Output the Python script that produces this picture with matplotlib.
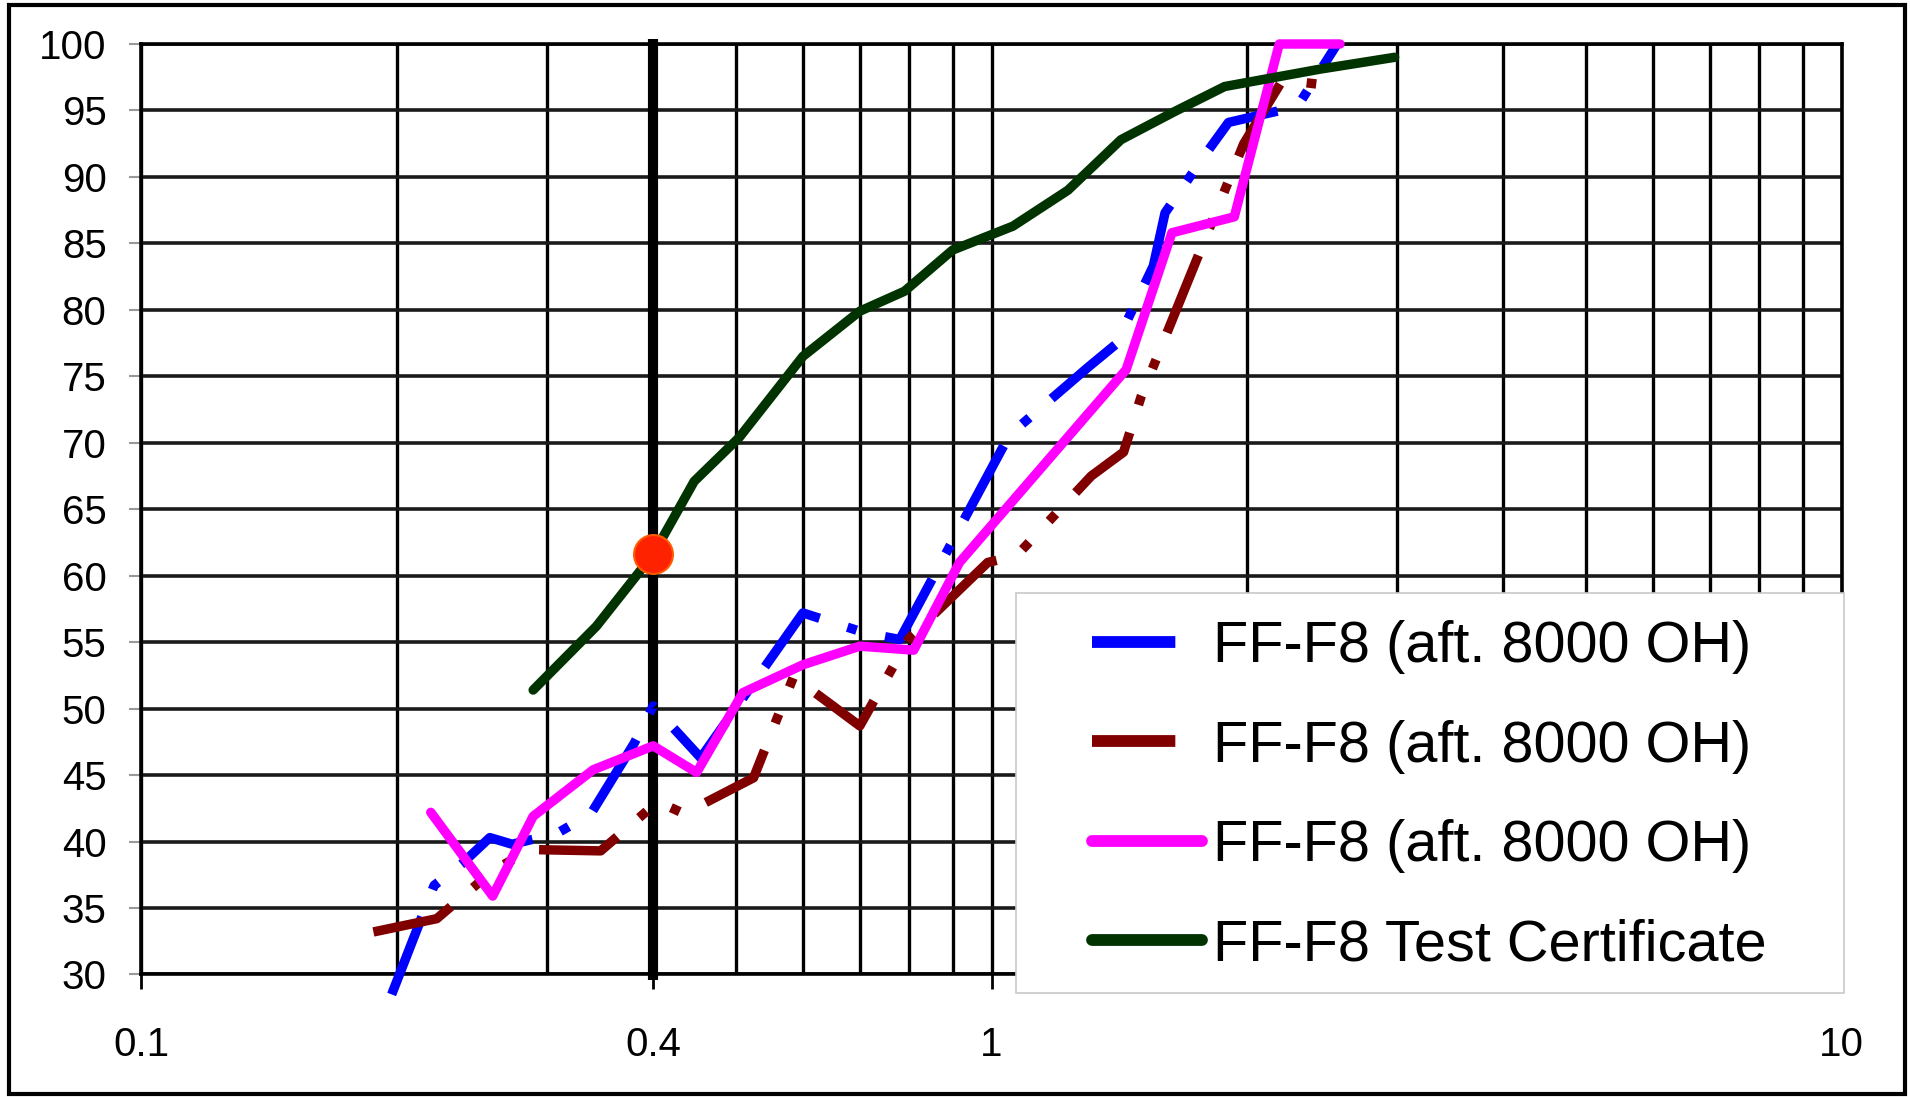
import matplotlib
matplotlib.use('Agg')
import matplotlib.pyplot as plt
from matplotlib.patches import Rectangle
from matplotlib.ticker import NullFormatter

plt.rcParams['font.family'] = ['Liberation Sans', 'DejaVu Sans']
plt.rcParams['lines.scale_dashes'] = False

# series (x is log scale)
blue_x = [0.197, 0.221, 0.238, 0.257, 0.273, 0.308, 0.338, 0.38, 0.40, 0.455, 0.60,
          0.71, 0.78, 1.05, 1.30, 1.40, 1.55, 1.60, 1.78, 1.90, 2.29, 2.55]
blue_y = [28.5, 36.7, 38.3, 40.3, 39.8, 40.6, 42.1, 47.4, 50.2, 46.3, 57.2,
          55.7, 55.2, 70.6, 75.7, 77.4, 83.3, 87.3, 91.6, 94.1, 95.3, 100.0]

red_x = [0.1875, 0.2226, 0.259, 0.287, 0.347, 0.405, 0.435, 0.525, 0.585, 0.70,
         0.80, 0.99, 1.07, 1.31, 1.43, 1.50, 1.98, 2.20, 2.55]
red_y = [33.2, 34.2, 37.8, 39.4, 39.3, 43.0, 42.1, 44.8, 52.4, 48.7,
         55.3, 61.0, 61.5, 67.5, 69.3, 73.5, 92.5, 97.3, 96.8]

mag_x = [0.219, 0.259, 0.289, 0.34, 0.40, 0.45, 0.51, 0.60, 0.70, 0.81,
         0.917, 1.44, 1.63, 1.93, 2.18, 2.57]
mag_y = [42.2, 35.9, 41.9, 45.4, 47.2, 45.2, 51.2, 53.3, 54.7, 54.4,
         61.0, 75.5, 85.8, 87.0, 100.0, 100.0]

green_x = [0.289, 0.343, 0.40, 0.447, 0.505, 0.60, 0.70, 0.79, 0.90, 1.06,
           1.23, 1.42, 1.64, 1.88, 2.43, 2.98]
green_y = [51.4, 56.2, 61.6, 67.1, 70.4, 76.5, 79.9, 81.4, 84.5, 86.3,
           89.0, 92.8, 94.9, 96.8, 98.1, 99.0]

dot_x = [0.4]
dot_y = [61.6]

labels = ['FF-F8 (aft. 8000 OH)', 'FF-F8 (aft. 8000 OH)',
          'FF-F8 (aft. 8000 OH)', 'FF-F8 Test Certificate']

x_major = [0.1, 0.4, 1, 10]
x_major_labels = ['0.1', '0.4', '1', '10']
x_minor = [0.2, 0.3, 0.5, 0.6, 0.7, 0.8, 0.9, 2, 3, 4, 5, 6, 7, 8, 9]
y_ticks = list(range(30, 101, 5))

fig = plt.figure(figsize=(19.1, 10.97), dpi=100)
fig.patches.append(Rectangle((0.0047, 0.0027), 0.9927, 0.9927, transform=fig.transFigure,
                             fill=False, edgecolor='black', lw=3, zorder=0))

ax = fig.add_axes([0.07398, 0.11167, 0.89026, 0.84822])
ax.set_xscale('log')
ax.set_xlim(0.1, 10)
ax.set_ylim(30, 100)
ax.set_xticks(x_major)
ax.set_xticklabels(x_major_labels)
ax.set_xticks(x_minor, minor=True)
ax.xaxis.set_minor_formatter(NullFormatter())
ax.set_yticks(y_ticks)
ax.set_axisbelow(True)
ax.grid(True, which='both', axis='x', color='black', lw=2.4)
ax.grid(True, which='major', axis='y', color='#1a1a1a', lw=2.6)

for s in ax.spines.values():
    s.set_linewidth(2.6)
    s.set_color('black')

ax.tick_params(axis='x', which='major', length=11, width=2, color='black',
               pad=26, labelsize=29)
ax.tick_params(axis='x', which='minor', length=0)
ax.tick_params(axis='y', which='major', length=9, width=1.5, color='#999999',
               pad=16, labelsize=29)

# bold marker line at 0.4
ax.plot([0.4, 0.4], [29.55, 100.4], color='black', lw=7.3, solid_capstyle='butt',
        clip_on=False, zorder=1.5)

lw = 6.8
l1, = ax.plot(blue_x, blue_y, color='#0000ff', lw=lw, dashes=(60, 21, 7, 21),
              dash_capstyle='butt', clip_on=False, label=labels[0], zorder=3)
l2, = ax.plot(red_x, red_y, color='#800000', lw=lw, dashes=(60, 21, 7, 21, 7, 21),
              dash_capstyle='butt', clip_on=False, label=labels[1], zorder=3.1)
l3, = ax.plot(mag_x, mag_y, color='#ff00ff', lw=lw, solid_capstyle='round',
              solid_joinstyle='round', clip_on=False, label=labels[2], zorder=3.2)
l4, = ax.plot(green_x, green_y, color='#003300', lw=lw, solid_capstyle='round',
              solid_joinstyle='round', clip_on=False, label=labels[3], zorder=3.3)
ax.plot(dot_x, dot_y, 'o', ms=28, color='#ff2200', mec='#ff5a00', mew=1.5,
        clip_on=False, zorder=4)

# legend box
ax.add_patch(Rectangle((0.5145, -0.0199), 0.4868, 0.4299, transform=ax.transAxes,
                       facecolor='white', edgecolor='#c8c8c8', lw=1.2,
                       clip_on=False, zorder=5))
leg = ax.legend(handles=[l1, l2, l3, l4], loc='upper left',
                bbox_to_anchor=(0.5591, 0.381), frameon=False, fontsize=41.5,
                borderpad=0, borderaxespad=0, handlelength=1.9,
                handletextpad=0.2, labelspacing=0.79)
leg.set_zorder(6)
for h in leg.legend_handles:
    h.set_linewidth(8.5)

fig.savefig('out.png', dpi=100)
